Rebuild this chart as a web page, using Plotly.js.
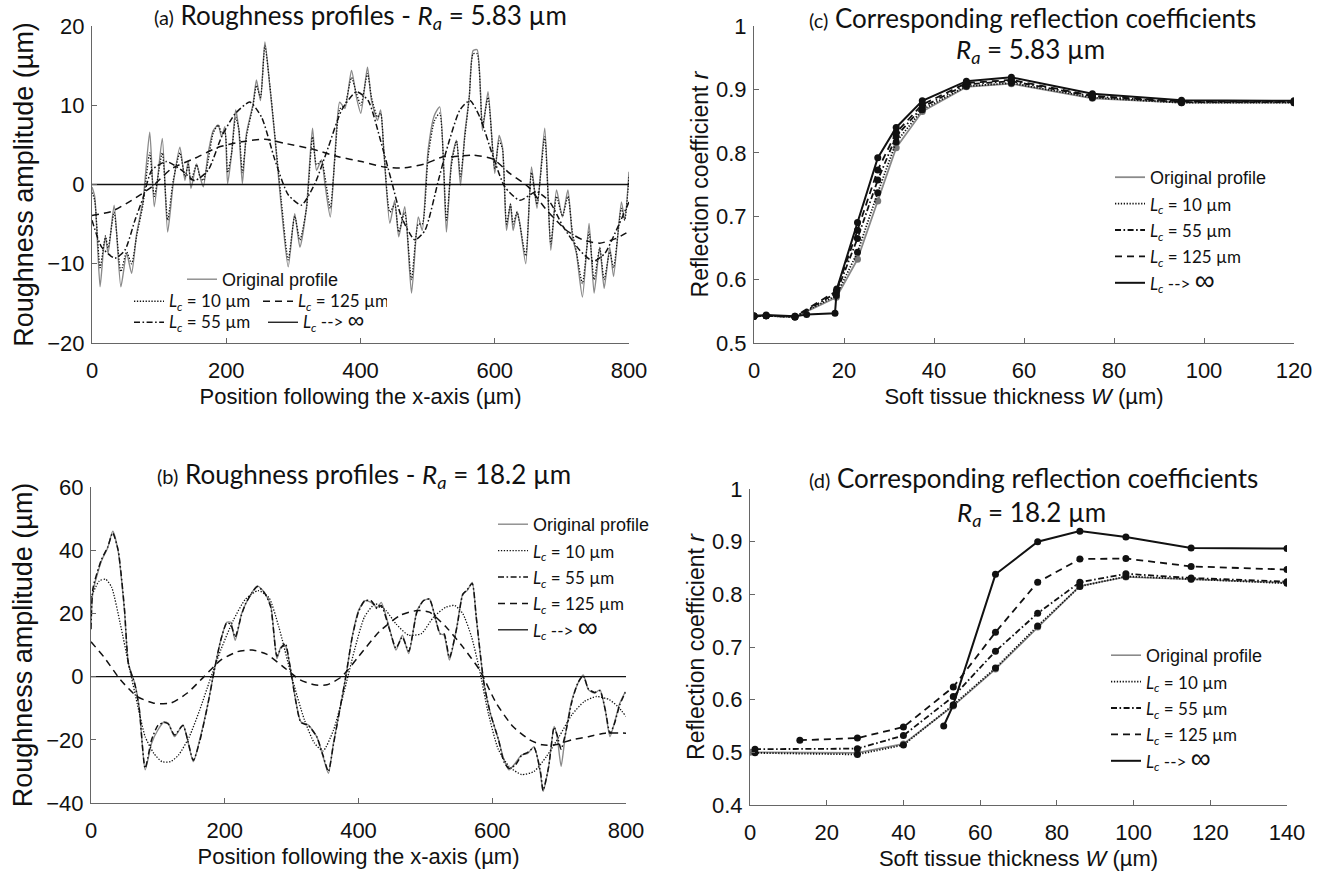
<!DOCTYPE html>
<html>
<head>
<meta charset="utf-8">
<script src="https://cdn.plot.ly/plotly-3.0.1.min.js"></script>
<style>html,body{margin:0;padding:0;background:#fff;}#chart{width:1325px;height:874px;}</style>
</head>
<body>
<div id="chart"></div>
<script>
// ---------- Panel (a): roughness profiles, Ra = 5.83 µm ----------
const aOrigX = [0,4,12,17,20,24,33,43,51.6,59,
  66.5,76,86,92.8,104.7,112.7,121,131,138.5,143.4,
  147.4,155.8,160.8,165.8,173,180.6,188,193,198,202,
  208,214,218.8,224,230,240,245,251,257.6,265,
  271.5,282,292.3,302,309.7,319.6,328.5,334.5,342,347,
  355,362,369,376.7,386.6,394,400.5,410.4,416.4,425.3,
  430,435,443.7,451,457,466,476,486,492,500.7,
  510,518,528,535.6,543,549,555.4,562,567.8,573.8,
  581.7,590,600,606.5,611.5,617.5,623.4,627.4,633.3,637.3,
  646.2,654.7,663,674.5,683.5,692,700.8,709,715.7,721.7,
  730.6,740.5,748,756.4,763,771.3,777,788.7,793.6,800];
const aOrigY = [-0.3,-1.5,-12.9,-8.3,-6.6,-8.7,-2.6,-12.9,-8.7,-11.2,
  -6.2,-2,6.6,-2.8,5.8,-6,0.1,4.7,0.5,3,
  -0.5,2.6,1,-0.3,3.9,6.8,7.5,6,7.3,0.1,
  3.9,9.4,6.8,0.1,6.4,10.2,13.2,10.6,18,12.3,
  6.8,-2.8,-10.4,-3.7,-7.9,-2.8,7.1,1.8,3.1,0.1,
  -4.1,3.9,10.4,9.6,14.4,11,9,14.8,10.6,8.1,
  9.4,3.9,-4.9,-2,-6.6,-2.8,-13.7,-4.1,-5.8,4.3,
  8.7,9.8,-6,3,5.6,-0.1,6.4,11,16.9,17,
  6.8,11.7,1.4,6.2,4.7,-5.8,-2.4,-5.8,-3.4,-4.9,
  -10,2.2,-3,7.1,-8.3,-0.7,-4.1,-0.7,-6.6,-8.7,
  -14.2,-4.9,-13.7,-7.9,-13.1,-7.9,-11.6,-2.2,-4.5,1.6];
const aLc10Y = [-1,-2,-10.5,-8,-6.5,-8,-3.5,-11,-8.5,-10,
  -6.5,-2.5,4,-1.5,4,-4.5,0.5,4,1,2.5,
  0.5,2.5,1,0.5,3,6.5,7.5,6.5,6.5,1.5,
  4,8.5,7,1.5,6,10,12.5,11,17.5,12.5,
  7,-2,-9.5,-4,-7,-3,6,2.5,3,1,
  -3,3.5,9.5,10,13.5,11.5,10,14,11,8.5,
  9,4,-3.5,-2.5,-6,-3.5,-12,-5,-5,3.5,
  8,9,-4.5,2.5,5.5,1,6,11,16.5,16.5,
  7.5,11,2,5.5,4.5,-5,-2.5,-5,-3.5,-5,
  -9,1.5,-2.5,6,-7.5,-1.5,-4,-1.5,-6,-8.5,
  -12.5,-6,-12,-8,-12,-8.5,-10.5,-3,-4.5,1];
const aLc55X = [0,14.4,34,49,64,76.4,89,111,133.5,153,
  173,193,213,235,252.6,272.5,292.3,312,332,352,
  372,394,411.4,431,446,461,481,496,516,528,
  548,563,577.8,597.6,615,637.3,662,682,701.8,726.6,
  746.5,764,781,800];
const aLc55Y = [-4.5,-7.9,-9.3,-8.3,-4.5,-1.6,1.8,2.9,1.8,0.5,
  1.8,6,8.9,10.4,8.5,3.1,-1.3,-2.6,0.1,4.7,
  9.4,11.7,10.6,5.2,0.5,-4.1,-7,-5.8,0.5,4.3,
  9.4,10.6,8.5,3.5,-0.3,-2,-0.9,-2.2,-5.3,-8.3,
  -9.7,-8.7,-5.8,-2.2];
const aLc125X = [0,29,59,89,118.6,153,188,223,257.6,287,
  327,367,401.5,436,466,496,523,538,567.8,597.6,
  622.4,650,677,707,731.6,756.4,781,800];
const aLc125Y = [-3.9,-3.4,-2,-0.3,2,3.3,4.7,5.4,5.7,5.2,
  4.5,3.5,2.9,2.2,2.1,2.6,3.5,3.5,3.7,3.2,
  1.4,-0.3,-3.2,-5.8,-7,-7.4,-6.8,-5.9];
const aInfX = [0,800];
const aInfY = [0,0];

// ---------- Panel (b): roughness profiles, Ra = 18.2 µm ----------
const bOrigX = [0,3,15.6,25,32.5,40.6,50,56,65.6,72,
  81,90.6,100,109.4,115.6,125,137.5,153,162.5,175,
  184.4,194,203,209,215.6,225,231,240.6,248.8,259.4,
  268.8,278,284,290.6,297,306,313.8,325,337.5,347,
  355,362.5,372,381,390.6,400,409.4,418.8,428,434,
  447,456,465.6,475,487.5,497,506,515.6,522,528,
  536,547,556,562.5,570,576,582.5,587.5,597,609.4,
  617.5,625,634.4,643.8,653,662.5,672,676,684.4,692.5,
  697,703,709,719,728,736,744,753,761,769,
  776,782.5,790.6,799];
const bOrigY = [16.7,27,36.6,40.8,46,39.7,20.9,4.1,-2.2,-9.6,
  -29.5,-21.1,-16.9,-14.3,-14.8,-19,-15.3,-26.9,-20,-8.4,
  2.1,11.5,17.2,17.2,11.5,19.8,22.9,26.6,28.7,26.6,
  22.4,5.7,9.4,9.8,4,-7.5,-14.3,-15.3,-19,-25.3,
  -30.6,-21.1,-10.6,0,12.6,20.9,24,23.5,21.9,23.5,
  14.7,8.4,13.1,7.3,20.9,24,24.6,17.8,13.6,13.1,
  5.2,15.7,26.2,27.2,29.8,18.8,6.3,-2.1,-11.5,-20,
  -26.3,-29.5,-27.4,-24.8,-24.3,-22.2,-30.6,-36.3,-28.4,-15.8,
  -19,-28.4,-19,-7.5,-2.2,0.5,-4.2,-5.2,-4.2,-10.6,
  -19,-14.8,-8.5,-4.8];
const bLc55Y = [15,28,37,41,45.5,40,21.5,4,-2.5,-10,
  -29,-20,-15.5,-14.5,-15,-18.5,-15.5,-26.5,-20.5,-8.5,
  2,11.5,17,16.5,12.5,19.5,23,26.5,28.5,26.5,
  22,6.5,9,10.5,4,-7.5,-14.5,-15.5,-19,-25,
  -30,-21.5,-10.5,0,12.5,20.5,24,24,21.5,22.5,
  14.5,9,12.5,8,20.5,24,24.5,18,13.5,13.5,
  6,15.5,26,27.5,29.5,19,6.5,-2,-11.5,-20,
  -27,-29,-28,-25,-24,-22.5,-30,-36,-28.5,-16,
  -18.5,-23,-18.5,-8,-2,0.3,-4,-5,-4.5,-10.5,
  -18,-15,-9,-5];
const bLc10X = [0,12.5,22,31,43.8,56,69,81,94,106,
  119,131,147,162.5,178,194,212.5,231,250,266,
  281,300,319,334,347,362.5,378,394,409,425,
  441,456,475,494,512.5,531,544,556,569,581,
  594,609,625,644,662.5,681,700,719,737.5,756,
  775,787.5,800];
const bLc10Y = [25,30.3,30.8,28.2,16.7,4.2,-8.4,-19,-24.3,-26.9,
  -26.9,-24.8,-19,-10.6,-1,8.4,17.7,24.5,27.2,25,
  15.6,0,-13.6,-21,-23.5,-17,-5.2,8.4,18.9,23,
  20.9,16.7,13.1,13.6,18.9,22,22.5,19.9,12.6,2.1,
  -11.5,-23,-28.4,-31,-30,-25.3,-19,-12.1,-7.9,-6.3,
  -7.3,-9.4,-12.6];
const bLc125X = [0,19,44,69,94,119,144,169,194,219,
  241,262.5,287.5,312.5,334,353,375,400,431,462.5,
  487.5,506,531,556,581,606,631,656,675,694,
  719,744,769,800];
const bLc125Y = [11,6.3,-1,-6.3,-8.4,-8.4,-5.2,0,5.2,7.9,
  8.4,7.1,3.1,-1,-2.6,-2.6,0,6.3,14.2,19.4,
  20.9,20.4,15.7,9.4,2.1,-8.4,-15.8,-20,-21.6,-21.6,
  -20,-19,-17.9,-17.9];
const bInfX = [0,800];
const bInfY = [0,0];

// ---------- Panel (c): reflection coefficients, Ra = 5.83 µm ----------
const cW = [0,2.7,9.1,18.3,23,27.5,31.6,37.4,47.2,57.2,75.2,95,120];
const cOrig  = [0.542,0.543,0.541,0.572,0.632,0.724,0.808,0.865,0.904,0.909,0.886,0.879,0.879];
const cLc10  = [0.542,0.543,0.541,0.575,0.643,0.737,0.817,0.868,0.905,0.910,0.887,0.879,0.879];
const cLc55  = [0.542,0.543,0.541,0.579,0.665,0.757,0.826,0.872,0.908,0.913,0.889,0.880,0.880];
const cLc125 = [0.542,0.543,0.542,0.582,0.678,0.773,0.832,0.876,0.910,0.915,0.890,0.881,0.881];
const cInfW  = [0,2.7,9.1,11.7,18,18.4,23,27.5,31.6,37.4,47.2,57.2,75.2,95,120];
const cInf   = [0.543,0.544,0.542,0.545,0.547,0.585,0.690,0.792,0.840,0.882,0.913,0.919,0.893,0.883,0.882];

// ---------- Panel (d): reflection coefficients, Ra = 18.2 µm ----------
const dOrigW  = [0,28,40,53,64,75,86,98,115,140];
const dOrig   = [0.500,0.499,0.516,0.588,0.658,0.738,0.816,0.833,0.828,0.822];
const dLc10W  = [1.3,28,40,53,64,75,86,98,115,140];
const dLc10   = [0.499,0.496,0.514,0.590,0.660,0.740,0.815,0.834,0.829,0.821];
const dLc55W  = [1.3,28,40,53,64,75,86,98,115,140];
const dLc55   = [0.506,0.507,0.532,0.606,0.692,0.764,0.823,0.839,0.831,0.824];
const dLc125W = [13,28,40,53,64,75,86,98,115,140];
const dLc125  = [0.523,0.527,0.548,0.624,0.728,0.823,0.867,0.868,0.853,0.847];
const dInfW   = [50.5,53,64,75,86,98,115,140];
const dInf    = [0.550,0.590,0.838,0.900,0.920,0.909,0.888,0.887];

// ---------- labels ----------
const CAL = "Lato, 'Open Sans', sans-serif";
const ARI = "'Liberation Sans', Arial, sans-serif";
const nOrig = 'Original profile';
const lcLab = v => `<span style="font-family:${CAL};font-size:17px"><i>L<sub>c</sub></i> = ${v} µm</span>`;
const infLab = s => `<span style="font-family:${CAL};font-size:17px"><i>L<sub>c</sub></i> --> </span><span style="font-size:${s}px">∞</span>`;
const nInf = infLab(28);
const nInfA = infLab(23);

const GRAY = '#8a8a8a', BLK = '#111';
const DOT = '1.3px,1.6px', DASHDOT = '6px,2.5px,1.6px,2.5px', DASH = '7px,5px';

const traces = [];
function prof(x, y, name, color, dash, w, xa, ya, legend) {
  traces.push({type:'scatter', mode:'lines', x:x, y:y, name:name, xaxis:xa, yaxis:ya, legend:legend,
    line:{color:color, width:w, dash:dash, shape:'spline', smoothing:0.6}, hoverinfo:'skip'});
}
// panel a
prof(aOrigX, aOrigY, nOrig, GRAY, 'solid', 1.4, 'x', 'y', 'legend');
prof(aOrigX, aLc10Y, lcLab(10), BLK, DOT, 1.3, 'x', 'y', 'legend2');
prof(aLc125X, aLc125Y, lcLab(125), BLK, DASH, 1.5, 'x', 'y', 'legend2');
prof(aLc55X, aLc55Y, lcLab(55), BLK, DASHDOT, 1.5, 'x', 'y', 'legend3');
prof(aInfX, aInfY, nInfA, BLK, 'solid', 1.3, 'x', 'y', 'legend3');
// panel b
prof(bOrigX, bOrigY, nOrig, GRAY, 'solid', 1.4, 'x2', 'y2', 'legend4');
prof(bLc10X, bLc10Y, lcLab(10), BLK, DOT, 1.3, 'x2', 'y2', 'legend4');
prof(bOrigX, bLc55Y, lcLab(55), BLK, DASHDOT, 1.5, 'x2', 'y2', 'legend4');
prof(bLc125X, bLc125Y, lcLab(125), BLK, DASH, 1.5, 'x2', 'y2', 'legend4');
prof(bInfX, bInfY, nInf, BLK, 'solid', 1.3, 'x2', 'y2', 'legend4');

function refl(x, y, name, color, dash, w, xa, ya, legend) {
  traces.push({type:'scatter', mode:'lines', x:x, y:y, name:name, xaxis:xa, yaxis:ya, legend:legend,
    line:{color:color, width:w, dash:dash}, hoverinfo:'skip'});
  traces.push({type:'scatter', mode:'markers', x:x, y:y, xaxis:xa, yaxis:ya, showlegend:false,
    marker:{color:color === GRAY ? '#777' : BLK, size:7}, hoverinfo:'skip'});
}
// panel c
refl(cW, cOrig, nOrig, GRAY, 'solid', 1.8, 'x3', 'y3', 'legend5');
refl(cW, cLc10, lcLab(10), BLK, DOT, 1.8, 'x3', 'y3', 'legend5');
refl(cW, cLc55, lcLab(55), BLK, DASHDOT, 1.8, 'x3', 'y3', 'legend5');
refl(cW, cLc125, lcLab(125), BLK, DASH, 1.8, 'x3', 'y3', 'legend5');
refl(cInfW, cInf, nInf, BLK, 'solid', 2, 'x3', 'y3', 'legend5');
// panel d
refl(dOrigW, dOrig, nOrig, GRAY, 'solid', 1.6, 'x4', 'y4', 'legend6');
refl(dLc10W, dLc10, lcLab(10), BLK, DOT, 1.8, 'x4', 'y4', 'legend6');
refl(dLc55W, dLc55, lcLab(55), BLK, DASHDOT, 1.8, 'x4', 'y4', 'legend6');
refl(dLc125W, dLc125, lcLab(125), BLK, DASH, 1.8, 'x4', 'y4', 'legend6');
refl(dInfW, dInf, nInf, BLK, 'solid', 2, 'x4', 'y4', 'legend6');

const W = 1325, H = 874;
const px = v => v / W, py = v => 1 - v / H;

function axis(extra) {
  return Object.assign({
    showline:true, linecolor:'#666', linewidth:1, mirror:false,
    ticks:'inside', ticklen:5, tickcolor:'#666', tickwidth:1,
    showgrid:false, zeroline:false, fixedrange:true,
    tickfont:{family:ARI, size:22, color:'#111'}
  }, extra);
}
function ttl(text, size, standoff) {
  return {text:text, font:{family:ARI, size:size, color:'#111'}, standoff:standoff};
}
function leg(x, yTop, size, extra) {
  return Object.assign({x:px(x), y:py(yTop), xanchor:'left', yanchor:'top', bgcolor:'rgba(0,0,0,0)',
    borderwidth:0, itemwidth:30, tracegroupgap:0, traceorder:'normal',
    font:{family:ARI, size:size, color:'#111'}}, extra || {});
}
function head(text, x, y) {
  return {text:text, x:px(x), y:py(y), xref:'paper', yref:'paper', xanchor:'center', yanchor:'middle',
    showarrow:false, font:{family:CAL, size:26, color:'#111'}};
}
const tag = t => `<span style="font-size:20px">(${t})</span>`;

const layout = {
  width:W, height:H, margin:{l:0, r:0, t:0, b:0},
  paper_bgcolor:'#fff', plot_bgcolor:'#fff', showlegend:true,
  font:{family:ARI, color:'#111'},
  xaxis: axis({domain:[px(92), px(629)], anchor:'y', range:[0,800], dtick:200, ticklabelstandoff:8,
    title:ttl('Position following the x-axis (µm)', 22, 6)}),
  yaxis: axis({domain:[py(343), py(26)], anchor:'x', range:[-20,20], dtick:10, ticklabelstandoff:2,
    title:ttl('Roughness amplitude (µm)', 27, 5)}),
  xaxis2: axis({domain:[px(91), px(626)], anchor:'y2', range:[0,800], dtick:200, ticklabelstandoff:8,
    title:ttl('Position following the x-axis (µm)', 22, 6)}),
  yaxis2: axis({domain:[py(803), py(487)], anchor:'x2', range:[-40,60], dtick:20, ticklabelstandoff:2,
    title:ttl('Roughness amplitude (µm)', 27, 5)}),
  xaxis3: axis({domain:[px(754), px(1294)], anchor:'y3', range:[0,120], dtick:20, ticklabelstandoff:8,
    title:ttl('Soft tissue thickness <i>W</i> (µm)', 22, 6)}),
  yaxis3: axis({domain:[py(343), py(26)], anchor:'x3', range:[0.5,1], dtick:0.1, ticklabelstandoff:2,
    title:ttl('Reflection coefficient <i>r</i>', 23, 0)}),
  xaxis4: axis({domain:[px(750), px(1287)], anchor:'y4', range:[0,140], dtick:20, ticklabelstandoff:8,
    title:ttl('Soft tissue thickness <i>W</i> (µm)', 22, 6)}),
  yaxis4: axis({domain:[py(805), py(489)], anchor:'x4', range:[0.4,1], dtick:0.1, ticklabelstandoff:2,
    title:ttl('Reflection coefficient <i>r</i>', 23, 0)}),
  legend:  leg(182, 261, 18),
  legend2: leg(129, 285, 15, {orientation:'h', entrywidth:84, entrywidthmode:'pixels'}),
  legend3: leg(129, 306, 15, {orientation:'h', entrywidth:89, entrywidthmode:'pixels'}),
  legend4: leg(493, 506, 18),
  legend5: leg(1110, 159, 18),
  legend6: leg(1106, 637, 18),
  annotations: [
    head(`${tag('a')} Roughness profiles - <i>R<sub>a</sub></i> = 5.83 µm`, 360, 17),
    head(`${tag('b')} Roughness profiles - <i>R<sub>a</sub></i> = 18.2 µm`, 364, 475),
    head(`${tag('c')} Corresponding reflection coefficients`, 1032, 18),
    head(`<i>R<sub>a</sub></i> = 5.83 µm`, 1030, 50),
    head(`${tag('d')} Corresponding reflection coefficients`, 1033, 478),
    head(`<i>R<sub>a</sub></i> = 18.2 µm`, 1031, 513)
  ]
};

Plotly.newPlot('chart', traces, layout, {displayModeBar:false, staticPlot:true});
</script>
</body>
</html>
